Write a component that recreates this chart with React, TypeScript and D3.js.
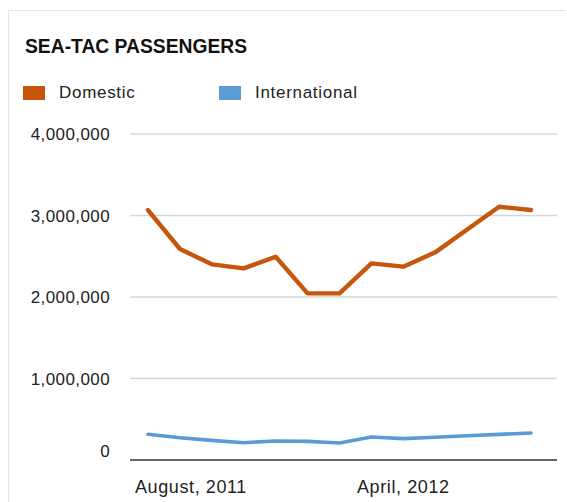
import React, { useEffect, useRef } from "react";
import * as d3 from "d3";

const months = ["2011-08","2011-09","2011-10","2011-11","2011-12","2012-01","2012-02","2012-03","2012-04","2012-05","2012-06","2012-07","2012-08"];
const domestic = [3067000, 2589000, 2401000, 2352000, 2494000, 2045000, 2045000, 2413000, 2372000, 2548000, 2828000, 3108000, 3067000];
const international = [315000, 274000, 241000, 212000, 233000, 229000, 209000, 282000, 262000, 279000, 298000, 315000, 331000];
const yTicks = [0, 1000000, 2000000, 3000000, 4000000];
const xTickMonths = ["2011-08", "2012-04"];
const xTickLabels = ["August, 2011", "April, 2012"];
const seriesNames = ["Domestic", "International"];
const colors = ["#c8550c", "#5b9bd5"];

const W = 567, H = 502;
const plotL = 130, plotR = 557, plotT = 134, plotB = 460;
const FONT = "'Liberation Sans', Arial, sans-serif";

export default function App() {
  const ref = useRef<SVGSVGElement>(null);
  useEffect(() => {
    const svg = d3.select(ref.current);
    svg.selectAll("*").remove();
    svg.append("rect").attr("x", 0).attr("y", 0).attr("width", W).attr("height", H).attr("fill", "#fff");
    // frame
    svg.append("path").attr("d", `M8.5,${H} V10.5 H${W - 1}`).attr("fill", "none").attr("stroke", "#e3e3e3").attr("stroke-width", 1.2);

    const x = d3.scalePoint<string>().domain(months).range([148, 531]);
    const y = d3.scaleLinear().domain([0, 4000000]).range([plotB, plotT]);

    // title
    svg.append("text").attr("x", 25).attr("y", 53).attr("font-family", FONT).attr("font-weight", "bold")
      .attr("font-size", 19.3).attr("fill", "#111").text("SEA-TAC PASSENGERS");

    // legend
    const legX = [23, 219];
    seriesNames.forEach((n, i) => {
      svg.append("rect").attr("x", legX[i]).attr("y", 86).attr("width", 22).attr("height", 14).attr("fill", colors[i]);
      svg.append("text").attr("x", legX[i] + 36).attr("y", 98).attr("font-family", FONT).attr("font-size", 17)
        .attr("letter-spacing", 0.7).attr("fill", "#222").text(n);
    });

    // gridlines
    yTicks.filter(t => t > 0).forEach(t => {
      svg.append("line").attr("x1", plotL).attr("x2", plotR).attr("y1", y(t)).attr("y2", y(t))
        .attr("stroke", "#d6d6d6").attr("stroke-width", 1.5);
    });
    // y labels
    const fmt = d3.format(",");
    yTicks.forEach(t => {
      svg.append("text").attr("x", 110).attr("y", y(t) + (t === 0 ? -9 : 0)).attr("dy", "0.36em")
        .attr("text-anchor", "end").attr("font-family", FONT).attr("font-size", 17).attr("letter-spacing", 0.4)
        .attr("fill", "#222").text(fmt(t));
    });

    // lines
    const line = d3.line<number>().x((_, i) => x(months[i])!).y(d => y(d)).curve(d3.curveLinear);
    svg.append("path").attr("d", line(international)!).attr("fill", "none").attr("stroke", colors[1])
      .attr("stroke-width", 3.6).attr("stroke-linejoin", "round").attr("stroke-linecap", "round");
    svg.append("path").attr("d", line(domestic)!).attr("fill", "none").attr("stroke", colors[0])
      .attr("stroke-width", 4.4).attr("stroke-linejoin", "round").attr("stroke-linecap", "round");

    // baseline
    svg.append("line").attr("x1", plotL).attr("x2", plotR).attr("y1", y(0)).attr("y2", y(0))
      .attr("stroke", "#333").attr("stroke-width", 1.6);

    // x labels
    xTickMonths.forEach((m, i) => {
      const t = svg.append("text").attr("x", x(m)!).attr("y", 493).attr("text-anchor", "middle")
        .attr("font-family", FONT).attr("font-size", 18).attr("letter-spacing", 0.6).attr("fill", "#222")
        .text(xTickLabels[i]);
      const bb = (t.node() as SVGTextElement).getBBox();
      if (bb.x < plotL + 5) {
        t.attr("text-anchor", "start").attr("x", plotL + 5);
      }
    });
  }, []);
  return (
    <svg ref={ref} width={W} height={H} style={{ position: "absolute", left: 0, top: 0 }} />
  );
}
